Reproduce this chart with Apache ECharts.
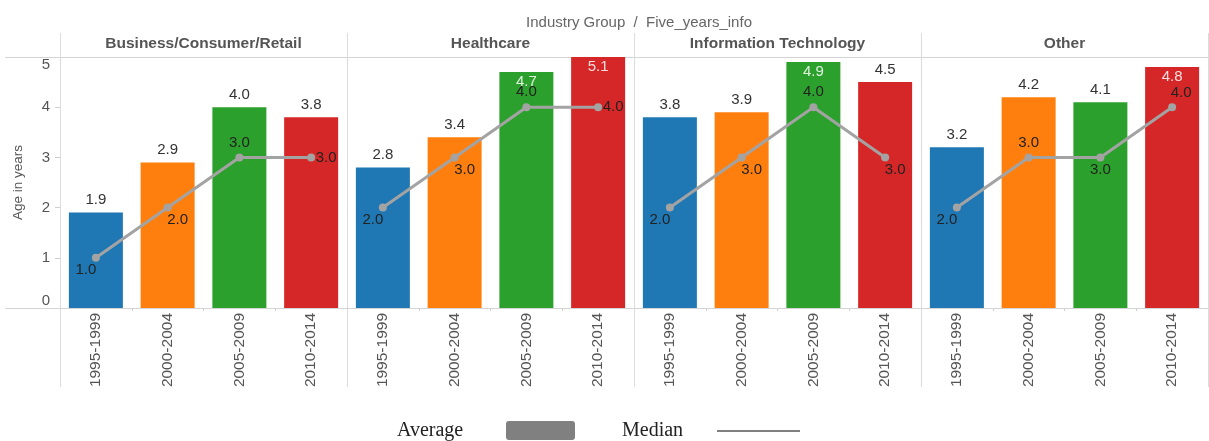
<!DOCTYPE html>
<html>
<head>
<meta charset="utf-8">
<script src="https://cdn.jsdelivr.net/npm/echarts@6/dist/echarts.min.js"></script>
<style>html,body{margin:0;padding:0;background:#fff;}#c{width:1209px;height:441px;}</style>
</head>
<body>
<div id="c"></div>
<script>
// ---- data ----
const categories = ['1995-1999', '2000-2004', '2005-2009', '2010-2014'];
const groups = ['Business/Consumer/Retail', 'Healthcare', 'Information Technology', 'Other'];
const avgBusiness = [1.9, 2.9, 4.0, 3.8];
const avgHealthcare = [2.8, 3.4, 4.7, 5.1];
const avgIT = [3.8, 3.9, 4.9, 4.5];
const avgOther = [3.2, 4.2, 4.1, 4.8];
const medBusiness = [1.0, 2.0, 3.0, 3.0];
const medHealthcare = [2.0, 3.0, 4.0, 4.0];
const medIT = [2.0, 3.0, 4.0, 3.0];
const medOther = [2.0, 3.0, 3.0, 4.0];
const yTicks = [0, 1, 2, 3, 4, 5];

// ---- styles ----
const averages = [avgBusiness, avgHealthcare, avgIT, avgOther];
const medians = [medBusiness, medHealthcare, medIT, medOther];
const barColors = ['#1f77b4', '#ff7f0e', '#2ca02c', '#d62728'];
const FONT = '"Liberation Sans", Arial, sans-serif';
const SERIF = '"Liberation Serif", "DejaVu Serif", serif';
const PANEL_LEFT = 60, PANEL_W = 287, TOP = 57, H = 251;
const BL = [-10, 12], BR = [10, 12], AB = [0, -15], RT = [15, 0], BE = [0, 12], AR = [9, -14];
const medLabelOffsets = [
  [BL, BR, AB, RT],
  [BL, BR, AB, RT],
  [BL, BR, AB, BR],
  [BL, AB, BE, AR]
];

const grids = [], xAxes = [], yAxes = [], series = [];
groups.forEach((g, i) => {
  grids.push({ left: PANEL_LEFT + i * PANEL_W, top: TOP, width: PANEL_W, height: H, outerBoundsMode: 'none' });
  xAxes.push({
    type: 'category', gridIndex: i, data: categories,
    axisLine: { show: false },
    axisTick: { show: true, length: 3, lineStyle: { color: '#cfcfcf' } },
    axisLabel: { rotate: 90, fontSize: 15.5, color: '#555', fontFamily: FONT, margin: 5 }
  });
  yAxes.push({
    type: 'value', gridIndex: i, min: 0, max: 5, interval: 1,
    show: i === 0,
    name: i === 0 ? 'Age in years' : '',
    nameLocation: 'middle', nameGap: 35, nameRotate: 90,
    nameTextStyle: { fontSize: 13.5, color: '#555', fontFamily: FONT },
    axisLine: { show: false },
    axisTick: { show: true, length: 5, lineStyle: { color: '#cfcfcf' } },
    splitLine: { show: false },
    axisLabel: {
      fontSize: 15, color: '#555', fontFamily: FONT, margin: 10,
      verticalAlignMinLabel: 'bottom', verticalAlignMaxLabel: 'top',
      customValues: yTicks
    }
  });
  series.push({
    name: 'Average', type: 'bar', xAxisIndex: i, yAxisIndex: i,
    barWidth: 54, clip: true,
    data: averages[i].map((v, k) => {
      const inside = v > 4.6;
      return {
        value: v,
        itemStyle: { color: barColors[k] },
        label: inside
          ? { position: 'insideTop', distance: 2, color: 'rgba(255,255,255,0.85)' }
          : { position: 'top', distance: 5, color: '#333' }
      };
    }),
    label: { show: true, fontSize: 15, fontFamily: FONT, formatter: p => p.value.toFixed(1) },
    z: 2
  });
  series.push({
    name: 'Median', type: 'line', xAxisIndex: i, yAxisIndex: i,
    data: medians[i].map((v, k) => ({
      value: v,
      label: { offset: medLabelOffsets[i][k] }
    })),
    lineStyle: { color: '#a3a3a3', width: 3 },
    itemStyle: { color: '#a3a3a3' },
    symbol: 'circle', symbolSize: 8,
    label: { show: true, position: 'inside', fontSize: 15, color: '#222', fontFamily: FONT, formatter: p => p.value.toFixed(1) },
    z: 3
  });
});

const graphics = [];
// horizontal rules
[TOP, TOP + H].forEach(y => graphics.push({
  type: 'line', shape: { x1: 5, y1: y + 0.5, x2: 1209, y2: y + 0.5 },
  style: { stroke: '#d4d4d4', lineWidth: 1 }, z: 1
}));
// vertical panel dividers
for (let i = 0; i <= 4; i++) {
  const x = PANEL_LEFT + i * PANEL_W + 0.5;
  graphics.push({ type: 'line', shape: { x1: x, y1: 33, x2: x, y2: 387 }, style: { stroke: '#dcdcdc', lineWidth: 1 }, z: 1 });
}
// panel headers
groups.forEach((g, i) => graphics.push({
  type: 'text', x: PANEL_LEFT + i * PANEL_W + PANEL_W / 2, y: 44,
  style: { text: g, font: 'bold 15.5px ' + FONT, fill: '#555', textAlign: 'center', textVerticalAlign: 'middle' }
}));
// legend
graphics.push({ type: 'text', x: 397, y: 431, style: { text: 'Average', font: '20px ' + SERIF, fill: '#222', textVerticalAlign: 'middle' } });
graphics.push({ type: 'rect', shape: { x: 506, y: 421, width: 69, height: 19, r: 3 }, style: { fill: '#808080' } });
graphics.push({ type: 'text', x: 622, y: 431, style: { text: 'Median', font: '20px ' + SERIF, fill: '#222', textVerticalAlign: 'middle' } });
graphics.push({ type: 'line', shape: { x1: 717, y1: 431, x2: 800, y2: 431 }, style: { stroke: '#808080', lineWidth: 2 } });

const chart = echarts.init(document.getElementById('c'), null, { renderer: 'canvas' });
chart.setOption({
  animation: false,
  title: {
    text: 'Industry Group  /  Five_years_info', left: 634, top: 10, textAlign: 'center',
    textStyle: { fontSize: 15, fontWeight: 'normal', color: '#666', fontFamily: FONT }
  },
  grid: grids, xAxis: xAxes, yAxis: yAxes, series: series, graphic: graphics
});
</script>
</body>
</html>
